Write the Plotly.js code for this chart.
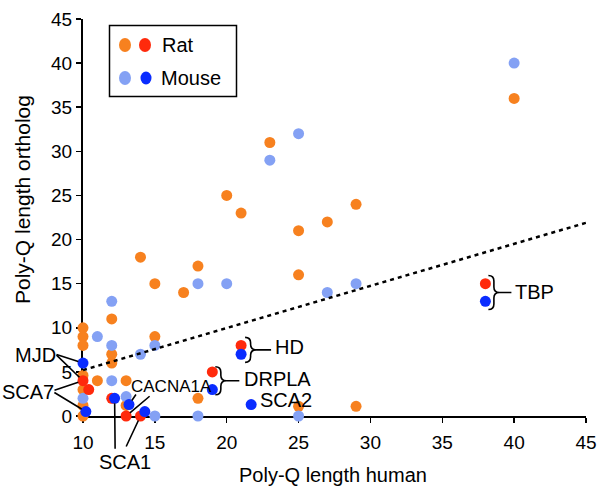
<!DOCTYPE html>
<html><head><meta charset="utf-8">
<script src="https://cdn.plot.ly/plotly-3.0.1.min.js"></script>
<style>html,body{margin:0;padding:0;background:#fff}</style>
</head><body>
<div id="chart" style="width:600px;height:499px"></div>
<script>
// Rat orthologs (orange)
const ratX = [40,23,20,21,27,29,25,14,18,15,17,25,12,15,10,10,10,12,12,11,13,10,10,10,10,13,18,25,29];
const ratY = [36,31,25,23,22,24,21,18,17,15,14,16,11,9,10,9,8,7,6,4,4,4.6,3,1.2,0,1.2,2,1.1,1.1];
// Mouse orthologs (light blue)
const mouseX = [40,25,23,18,20,29,27,12,11,12,15,14,12,10,13,15,18,25];
const mouseY = [40,32,29,15,15,15,14,13,9,8,8,7,4,2,2.2,0,0,0];
// Disease genes, rat (red)
const ratDisX = [38,21,19,10,10.4,12,13,14];
const ratDisY = [15,8,5,4,3,2,0,0];
// Disease genes, mouse (blue)
const mouseDisX = [38,21,19,21.7,10,10.2,12.2,13.2,14.3];
const mouseDisY = [13,7,3,1.3,6,0.5,2,1.3,0.5];
// Dotted reference line
const trendX = [10,45];
const trendY = [5.2,21.9];
// Ticks
const xTickVals = [10,15,20,25,30,35,40,45];
const yTickVals = [0,5,10,15,20,25,30,35,40,45];
// Labels
const legendNames = ['Rat','Mouse'];
const xTitle = 'Poly-Q length human';
const yTitle = 'Poly-Q length ortholog';

const FONT = 'Liberation Sans, Arial, Helvetica, sans-serif';
const C_OR = '#f7811f', C_LB = '#84a1f4', C_RED = '#ff2a0c', C_BLUE = '#0a2cff';
const M = {l:83, r:14, t:19, b:83}, W = 600, H = 499;
const PW = W - M.l - M.r, PH = H - M.t - M.b;
const px2pX = px => (px - M.l) / PW;
const px2pY = py => (M.t + PH - py) / PH;

const traces = [
  {x: ratX, y: ratY, mode:'markers', type:'scatter', marker:{color:C_OR, size:11}, cliponaxis:false, hoverinfo:'none'},
  {x: mouseX, y: mouseY, mode:'markers', type:'scatter', marker:{color:C_LB, size:11}, cliponaxis:false, hoverinfo:'none'},
  {x: trendX, y: trendY, mode:'lines', type:'scatter', line:{color:'#000', width:2.5, dash:'4px,4px'}, cliponaxis:false, hoverinfo:'none'},
  {x: ratDisX, y: ratDisY, mode:'markers', type:'scatter', marker:{color:C_RED, size:11}, cliponaxis:false, hoverinfo:'none'},
  {x: mouseDisX, y: mouseDisY, mode:'markers', type:'scatter', marker:{color:C_BLUE, size:11}, cliponaxis:false, hoverinfo:'none'}
];

const shapes = [];
const annotations = [];

// label text anchored at a data point with pixel shifts (screen dy: + down)
function label(text, x, y, dx, dy, size, xanchor) {
  annotations.push({x:x, y:y, xref:'x', yref:'y', text:text, showarrow:false,
    xanchor:xanchor||'center', yanchor:'middle', xshift:dx, yshift:-dy,
    font:{family:FONT, size:size||20, color:'#000'}});
}
// leader line from screen offset (dx,dy) to the point
function leader(x, y, dx, dy, stand) {
  annotations.push({x:x, y:y, xref:'x', yref:'y', text:'', showarrow:true, arrowhead:0,
    arrowwidth:1.6, arrowcolor:'#000', ax:dx, ay:dy, standoff:(stand===undefined?5:stand), startstandoff:0});
}
// curly brace to the right of a pair of points
function brace(x, yTop, yBot, a, halfH, dashEnd) {
  const yMid = (yTop + yBot) / 2;
  const w = 5.5, h = halfH;
  const p = `M ${a},${h} Q ${a+w},${h} ${a+w},${h-w} L ${a+w},${w} Q ${a+w},0 ${a+2*w},0 ` +
            `Q ${a+w},0 ${a+w},${-w} L ${a+w},${-(h-w)} Q ${a+w},${-h} ${a},${-h} ` +
            `M ${a+2*w},0 L ${dashEnd},0`;
  shapes.push({type:'path', layer:'above', xref:'x', yref:'y', xsizemode:'pixel', ysizemode:'pixel',
    xanchor:x, yanchor:yMid, path:p, line:{color:'#000', width:1.6}});
  return yMid;
}

// TBP
let ym = brace(ratDisX[0], ratDisY[0], mouseDisY[0], 3, 17, 26);
label('TBP', ratDisX[0], ym, 28, 0, 20, 'left');
// HD
ym = brace(ratDisX[1], ratDisY[1], mouseDisY[1], 4, 12.5, 30);
label('HD', ratDisX[1], ym, 32, -3, 20, 'left');
// DRPLA
ym = brace(ratDisX[2], ratDisY[2], mouseDisY[2], 3, 14, 27);
label('DRPLA', ratDisX[2], ym, 30, -2, 20, 'left');
// SCA2
label('SCA2', mouseDisX[3], mouseDisY[3], 7, -5, 20, 'left');
// MJD
leader(mouseDisX[4], mouseDisY[4], -28, -9);
leader(ratDisX[3], ratDisY[3], -28, -27);
label('MJD', mouseDisX[4], mouseDisY[4], -48, -8, 20);
// SCA7
leader(ratDisX[3], ratDisY[3], -30, 10);
leader(mouseDisX[5], mouseDisY[5], -33, -20);
label('SCA7', mouseDisX[5], mouseDisY[5], -58, -20, 20);
// SCA1
leader(mouseDisX[6], mouseDisY[6], 0.5, 52);
leader(ratDisX[7], ratDisY[7], -15, 32);
label('SCA1', ratDisX[7], ratDisY[7], -15.5, 46, 20);
// CACNA1A
leader(mouseDisX[7], mouseDisY[7], 8, -11.5);
leader(ratDisX[6], ratDisY[6], 25, -21);
label('CACNA1A', mouseDisX[7], mouseDisY[7], 0, -18.5, 17, 'left');

// Legend box
shapes.push({type:'rect', xref:'paper', yref:'paper', x0:px2pX(109.5), x1:px2pX(236.5), y0:px2pY(96.5), y1:px2pY(25.5),
  line:{color:'#000', width:1.5}, fillcolor:'rgba(0,0,0,0)'});
function legendDot(cx, cy, color, rw, rh) {
  shapes.push({type:'circle', xref:'paper', yref:'paper', xsizemode:'pixel', ysizemode:'pixel',
    xanchor:px2pX(cx), yanchor:px2pY(cy), x0:-rw, x1:rw, y0:-rh, y1:rh,
    fillcolor:color, line:{width:0}});
}
legendDot(125, 45, C_OR, 6, 7);
legendDot(145, 45, C_RED, 6, 7);
legendDot(125, 78, C_LB, 6, 7);
legendDot(146, 78, C_BLUE, 5.5, 6.5);
annotations.push({xref:'paper', yref:'paper', x:px2pX(160), y:px2pY(45), xanchor:'left', yanchor:'middle',
  text:legendNames[0], showarrow:false, font:{family:FONT, size:20, color:'#000'}});
annotations.push({xref:'paper', yref:'paper', x:px2pX(159), y:px2pY(78), xanchor:'left', yanchor:'middle',
  text:legendNames[1], showarrow:false, font:{family:FONT, size:20, color:'#000'}});

// Axis titles
annotations.push({xref:'paper', yref:'paper', x:px2pX(333), y:px2pY(475), xanchor:'center', yanchor:'middle',
  text:xTitle, showarrow:false, font:{family:FONT, size:20, color:'#000'}});
annotations.push({xref:'paper', yref:'paper', x:px2pX(23), y:px2pY(200), xanchor:'center', yanchor:'middle',
  text:yTitle, textangle:-90, showarrow:false, font:{family:FONT, size:21, color:'#000'}});

const axisCommon = {showgrid:false, zeroline:false, showline:true, linecolor:'#000', linewidth:2,
  ticks:'outside', ticklen:5, tickwidth:1.5, tickcolor:'#000', layer:'below traces',
  tickfont:{family:FONT, size:19, color:'#000'}, fixedrange:true};

const layout = {
  width:W, height:H, margin:M, paper_bgcolor:'#fff', plot_bgcolor:'#fff', showlegend:false,
  xaxis: Object.assign({}, axisCommon, {range:[10,45], tickvals:xTickVals, ticktext:xTickVals.map(String), ticklabelstandoff:3}),
  yaxis: Object.assign({}, axisCommon, {range:[0,45], tickvals:yTickVals, ticktext:yTickVals.map(String)}),
  shapes: shapes, annotations: annotations
};

Plotly.newPlot('chart', traces, layout, {staticPlot:true, displayModeBar:false});
</script>
</body></html>
